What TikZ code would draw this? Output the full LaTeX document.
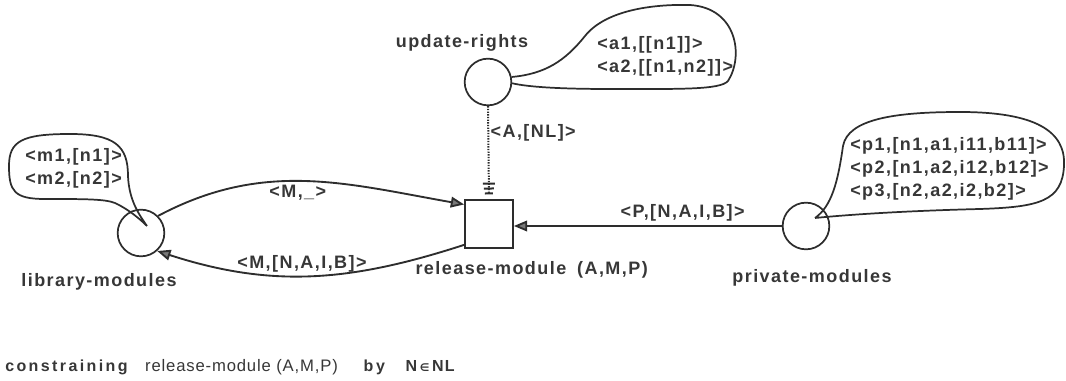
\documentclass[tikz,border=0pt]{standalone}
\usepackage{fontspec}
\setmainfont{Liberation Sans}
\newfontfamily\lblfont{Liberation Sans}[LetterSpace=8]
\newfontfamily\wideft{Liberation Sans}[LetterSpace=15]
\newfontfamily\relft{Liberation Sans}[LetterSpace=5]
\newfontfamily\symft{DejaVu Sans}
\usepackage{tikz}
\usetikzlibrary{
    arrows.meta,
    positioning
}
\definecolor{Cline}{RGB}{45, 45, 45}
\definecolor{Ctext}{RGB}{55, 55, 55}
\definecolor{Cgray}{RGB}{120, 120, 120}
\tikzset{
    cplace/.style={
        circle, draw=Cline, line width=1.3pt, minimum size=35pt, inner sep=0pt
    },
    ctrans/.style={
        rectangle, draw=Cline, line width=1.3pt, minimum size=36pt, inner sep=0pt
    },
    cname/.style={
        font=\lblfont\bfseries\fontsize{13.5}{17.25}\selectfont, text=Ctext, inner sep=0pt
    },
    ctok/.style={cname, align=left},
    cfoot/.style={text=Ctext, inner sep=0pt},
    cballoon/.style={draw=Cline, line width=1.3pt},
    carr/.style={-{Triangle[length=10pt, width=8pt, fill=Cgray]}, line width=1.4pt, draw=Cline},
    cread/.style={
        draw=Cline, line width=1.5pt, dash pattern=on 1pt off 1pt, shorten >=3.5pt,
        -{Bar[width=9pt, sep=2.2pt] Bar[width=7.5pt, sep=2.2pt] Bar[width=6pt]}
    },
}

\begin{document}
\begin{tikzpicture}[x=0.75pt, y=0.75pt]
    \useasboundingbox (0,0) rectangle (1066,381);

    % ── places and transition ─────────────────────────────
    \node [ctrans] (relmod) at (489,157) {};
    \node [cplace] (urights) at (488,299) {};
    \node [cplace] (libmod) at (141,148) {};
    \node [cplace] (privmod) at (806,155) {};

    % ── names ────────────────────────────────────────────
    \node [cname, above=5pt of urights, xshift=-19.5pt] (urname) {update-rights};
    \node [cname, below=12pt of libmod, xshift=-31.5pt] (libname) {library-modules};
    \node [cname, below=9pt of relmod, xshift=32pt] (relname) {release-module\hspace{0.6em}(A,M,P)};
    \node [cname, below=14pt of privmod, xshift=4.5pt] (privname) {private-modules};

    % ── markings (balloons) ──────────────────────────────
    \node [ctok, anchor=west] (urtok) at (597,324.5) {<a1,[[n1]]>\\<a2,[[n1,n2]]>};
    \draw [cballoon] (urights.12) .. controls (545,307) and (565,320) .. (585,345)
        .. controls (605,370) and (650,377) .. (690,376)
        .. controls (737,373) and (744,325) .. (728,300)
        .. controls (720,291) and (680,292) .. (610,292)
        .. controls (560,292) and (528,294) .. (urights.-3);

    \node [ctok, anchor=west] (libtok) at (25,212.5) {<m1,[n1]>\\<m2,[n2]>};
    \draw [cballoon] (147,155) .. controls (140,165) and (129,180) .. (128,205)
        .. controls (128,235) and (115,247) .. (70,247)
        .. controls (22,247) and (9,240) .. (9,215)
        .. controls (9,190) and (14,182) .. (45,182)
        .. controls (85,182) and (105,182) .. (115,178)
        .. controls (128,172) and (140,162) .. (147,155);

    \node [ctok, anchor=west] (privtok) at (850,212) {<p1,[n1,a1,i11,b11]>\\<p2,[n1,a2,i12,b12]>\\<p3,[n2,a2,i2,b2]>};
    \draw [cballoon] (815,163) .. controls (832,175) and (838,200) .. (843,235)
        .. controls (848,262) and (895,269) .. (960,269)
        .. controls (1035,269) and (1066,250) .. (1064,215)
        .. controls (1062,180) and (1040,174) .. (980,172)
        .. controls (900,170) and (845,166) .. (815,163);

    % ── arcs ─────────────────────────────────────────────
    \draw [carr] (libmod.45) to[out=28, in=170]
        node[cname, below=2pt, pos=0.47] {<M,\_>} ([yshift=-4pt]relmod.north west);
    \draw [carr] ([yshift=3pt]relmod.south west) to[out=198, in=-18]
        node[cname, above=2pt, pos=0.53] {<M,[N,A,I,B]>} (libmod.-48);
    \draw [carr] (privmod.west) --
        node[cname, above=3pt, pos=0.37] {<P,[N,A,I,B]>} (privmod.west -| relmod.east);
    \draw [cread] (urights.south) --
        node[cname, right=1pt, pos=0.29] {<A,[NL]>} (relmod.north);

    % ── constraint line ──────────────────────────────────
    \node [cfoot, font=\wideft\bfseries\fontsize{12}{14}\selectfont, anchor=base west]
        (constr) at (5,9) {constraining};
    \node [cfoot, font=\relft\fontsize{12.5}{14}\selectfont, base right=12.75pt of constr]
        (constrrel) {release-module (A,M,P)};
    \node [cfoot, font=\wideft\bfseries\fontsize{12}{14}\selectfont, base right=19pt of constrrel]
        (constrby) {b\,y};
    \node [cfoot, font=\lblfont\bfseries\fontsize{12}{14}\selectfont, base right=15pt of constrby]
        (constrset) {N\,{\symft\fontsize{8}{8}\selectfont ∈}\,NL};

\end{tikzpicture}
\end{document}
